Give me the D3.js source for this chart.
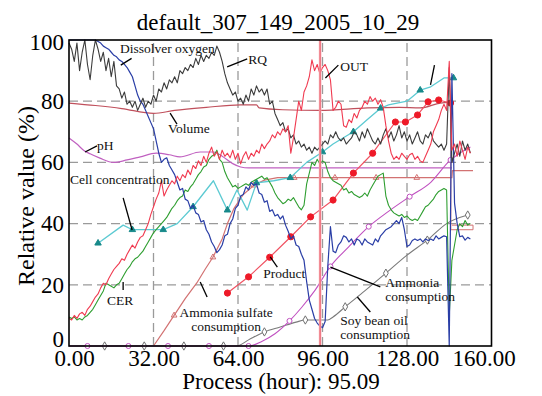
<!DOCTYPE html>
<html>
<head>
<meta charset="utf-8">
<script src="https://cdn.jsdelivr.net/npm/d3@7"></script>
<style>
  body { margin: 0; background: #fff; }
  text { font-family: "Liberation Serif", "Times New Roman", serif; }
</style>
</head>
<body>
<svg id="chart" width="542" height="396"></svg>
<script>
// ---- data (relative value %, process hour) ----
const title = 'default_307_149_2005_10_29';
const processHour = 95.09;
const xTicks = [0, 32, 64, 96, 128, 160];
const yTicks = [0, 20, 40, 60, 80, 100];

// noisy on-line signals sampled every hour, h = 0 .. 152
const hours = d3.range(0, 153);
const rqValues = [
  99, 97, 93, 99, 90, 96, 100, 92, 87, 95,
  100, 97, 93, 96, 90, 94, 88, 93, 85, 84,
  81, 83, 79, 80, 78, 80, 77, 79, 81, 78,
  80, 79, 82, 80, 84, 83, 86, 84, 87, 86,
  88, 86, 90, 89, 91, 90, 92, 91, 94, 92,
  95, 93, 95, 94, 96, 95, 98, 96, 93, 89,
  86, 84, 82, 83, 80, 81, 79, 82, 80, 84,
  82, 85, 83, 84, 82, 84, 79, 80, 76, 74,
  72, 73, 70, 71, 68, 69, 66, 67, 65, 66,
  64, 65, 63, 65, 64, 65, 66, 67, 66, 69,
  68, 70, 68, 67, 68, 66, 67, 68, 70, 69,
  67, 70, 68, 71, 69, 67, 66, 68, 66, 69,
  71, 68, 70, 67, 69, 72, 68, 70, 67, 69,
  66, 68, 70, 67, 66, 69, 68, 70, 67, 66,
  65, 66, 64, 66, 91, 60, 63, 66, 62, 67,
  64, 66, 63
];
const doValues = [
  100, 100, 100, 100, 100, 100, 100, 100, 100, 100,
  100, 99.5, 99, 98, 97.5, 97, 96, 95, 94.5, 93.5,
  93, 92, 91, 89.5, 88, 85, 82, 80, 79, 77,
  75, 73, 71, 67, 63, 60, 61, 61.5, 59, 57.5,
  56, 53.5, 51, 51.5, 48, 47.5, 45, 46, 43.5, 43,
  40.5, 41, 38, 36.5, 34, 32.5, 30.5, 31.5, 33, 36,
  36.5, 40, 41.5, 45, 46, 49, 49.5, 52, 51, 53.5,
  52.5, 53, 50, 49.5, 47, 47.5, 44, 44.5, 42.5, 43,
  41.5, 42.5, 39.5, 37.5, 35, 36, 33, 32.5, 30, 28,
  21, 15, 12, 9, 7.5, 6.5, 6, 8, 26, 39,
  31, 30.5, 33, 34, 36, 35.5, 34, 35, 33, 35,
  34.5, 33, 35, 34, 33.5, 33, 35, 34, 36, 37,
  38, 38.5, 39, 40, 41, 40, 42, 38, 32.5, 33,
  34.5, 35, 34.5, 35, 34, 35, 34.5, 35, 34.5, 36,
  35, 35.5, 36, 35.7, 0, 89, 46.7, 40, 35.7, 36,
  34.6, 35.5, 35
];
const outValues = [
  9, 8.5, 10, 9, 10.5, 11, 10, 12, 13, 14.5,
  16, 17, 19, 20.5, 20, 22, 23.5, 25, 26, 27,
  28.5, 28, 30, 31.5, 33, 32, 34, 35.5, 36, 38,
  40, 43, 45.5, 48, 50, 54, 49, 51, 52.5, 54,
  53, 55.5, 54, 56, 55, 57.5, 56, 59, 58, 60.5,
  59, 62, 60, 63, 65, 62, 63.5, 61, 64, 62,
  63, 61.5, 64, 61, 63, 59.5, 62, 63.5, 61, 63,
  62, 64, 63, 66, 64.5, 66, 67, 69, 68, 70,
  69, 71, 70, 72, 63, 68, 74, 80, 77, 83,
  85, 88, 93.5, 90, 92, 89, 91, 92, 90, 87,
  77, 78, 80, 79, 72, 71.5, 74, 73, 76, 74.5,
  77, 78, 80, 79, 81.5, 80, 81, 79, 80.5, 78,
  72, 67, 63, 61, 62, 61, 63, 62, 61, 62.5,
  63, 61, 62, 60.5, 60, 62, 64, 66, 70, 72,
  74, 77, 79, 77, 93, 64, 66, 62, 67, 64,
  61, 65, 63
];
const cerValues = [
  9.5, 9, 9.5, 8.5, 9, 8.5, 9.5, 10, 11, 12,
  13.5, 15, 16.5, 18, 20.5, 20, 19.5, 19, 20, 20.5,
  22, 23.5, 25, 26, 27.5, 28.5, 29, 30, 31, 32.5,
  34, 35.5, 37, 38, 39, 40, 41, 42, 43.5, 45,
  46, 47.5, 48.5, 49, 51, 50.5, 52, 53, 54.5, 56,
  57, 58.5, 59, 61, 62, 62.5, 64, 61, 60, 57,
  55, 53.5, 52, 52.5, 51.5, 52, 52.5, 53, 52.5, 53.5,
  54, 54.5, 55, 55.5, 54.5, 55, 53.5, 52, 50, 48.5,
  47.5, 46.5, 47, 48, 47.5, 48.5, 47, 45.5, 44.5, 46,
  53, 56.5, 60, 59, 61, 59.5, 60.5, 60, 57, 55,
  54, 53.5, 53, 52.5, 51, 51.5, 50, 50.5, 49.5, 49,
  48.5, 49, 50, 49, 51, 52.5, 54, 55.5, 56, 56.5,
  49, 46, 44.5, 43.5, 43, 42.5, 43, 42, 42.5, 41.5,
  41, 41.5, 41, 42.5, 44, 45.5, 46, 47, 48, 49.5,
  50.5, 51, 51.5, 51, 10, 28, 33, 38, 40, 39,
  41, 39.5, 40
];

// off-line / smooth signals as [hour, value]
const cellLine = [[11, 33.6], [20.5, 39.5], [24, 38], [35.7, 38], [41, 40], [47, 45.5], [54.7, 54], [60, 44.4],
  [63.6, 51], [67.5, 44.4], [71, 53.3], [77.5, 54], [83.8, 55], [90, 60], [96, 63.4], [100, 66], [107.7, 70],
  [113, 74], [118, 77.7], [121, 78.8], [128, 80], [133, 83.6], [137, 84.7], [142, 87.6], [145.6, 87.6]];
const cellMarks = [[11, 33.6], [24, 38], [35.7, 38], [47, 45.5], [60, 44.4], [71, 53.3], [83.8, 55], [96, 63.4],
  [107.7, 70], [118, 77.7], [133, 83.6], [145.6, 87.6]];
const phLine = [[0, 68], [3, 66], [5.5, 64], [8, 62.8], [11.7, 61.4], [16.8, 60], [22, 60.8], [27, 61.8], [33, 63],
  [38, 62.5], [42, 61.8], [49.7, 63.4], [54.7, 63.4], [58, 62], [62, 59.6], [65, 58.5], [68, 58.2], [145, 58.2]];
const volumeLine = [[0, 79.4], [10, 78.6], [20, 77.6], [32, 76], [40, 77], [52, 78], [65, 78.8], [71, 78.8],
  [72, 77.8], [81, 77.2], [95, 77], [113, 77.8], [125, 78], [133, 77.8], [140.6, 79.4], [144.5, 79.7]];
const volumeTail = [[144.6, 79.7], [144.6, 38], [153, 38], [153, 39.5], [145, 39.5]];
const sulfateLine = [[32, 0], [36, 5], [39.8, 10], [44, 15.5], [48.4, 20.6], [51.5, 25], [54.5, 29], [58, 35],
  [60, 40], [62.5, 45], [66, 49.5], [70, 52.5], [74, 54.2], [79, 55], [145, 55], [145.2, 57.3], [153, 57.3]];
const sulfateMarks = [[39.8, 10], [54.5, 29], [70, 52.5], [85.3, 55], [100.7, 55], [116.3, 55], [131.7, 55]];
const productLine = [[60, 17.3], [68, 22.6], [76, 29], [84, 35.7], [91.5, 42.2], [100, 47.7], [107.7, 56.5],
  [115, 63], [123.6, 73.2], [127.4, 73.2], [132, 75.5], [136, 79.8], [140, 80.4], [144.5, 79.4]];
const ammoniaLine = [[0, 0], [68, 0], [73, 1.5], [78, 4], [83.5, 8.2], [88, 12.5], [93, 18], [99, 26], [106, 32.5],
  [113.5, 39], [121, 44], [129, 48.8], [137, 53.5], [144.5, 60.8], [148, 63], [152, 65]];
const ammoniaMarks = [[7, 0], [22.5, 0], [37.5, 0], [53, 0], [68, 0], [83.5, 8.2], [99, 26], [113.5, 39],
  [129, 48.8], [144.5, 60.8]];
const soyLine = [[0, 0], [63.6, 0], [68, 2], [74, 4.6], [80, 6.2], [86, 7.8], [89.5, 8.5], [98, 8.5], [100, 9.5],
  [104.6, 12.8], [112, 18], [120, 23.8], [128, 29.7], [135.7, 34.6], [143, 40], [151, 42.8]];
const soyMarks = [[13.5, 0], [28.5, 0], [43.5, 0], [58.5, 0], [74, 4.6], [89.5, 8.5], [104.6, 12.8], [120, 23.8],
  [135.7, 34.6], [151, 42.8]];

// ---- layout ----
const svg = d3.select('#chart');
const W = 542, H = 396;
const margin = { top: 40, right: 50.5, bottom: 50, left: 69 };
const x = d3.scaleLinear().domain([0, 160]).range([margin.left, W - margin.right]);
const y = d3.scaleLinear().domain([0, 100]).range([H - margin.bottom, margin.top]);

// title
svg.append('text')
  .attr('x', 278).attr('y', 30)
  .attr('text-anchor', 'middle')
  .attr('font-size', 23)
  .text(title);

// grid lines
const grid = svg.append('g').attr('stroke', '#9a9a9a').attr('stroke-width', 1.3).attr('stroke-dasharray', '9,5');
grid.selectAll('.vg').data(xTicks.slice(1, -1)).join('line')
  .attr('x1', d => x(d)).attr('x2', d => x(d))
  .attr('y1', y(0)).attr('y2', y(100));
grid.selectAll('.hg').data(yTicks.slice(1, -1)).join('line')
  .attr('x1', x(0)).attr('x2', x(160))
  .attr('y1', d => y(d)).attr('y2', d => y(d));

// axes (labels only, the frame is drawn last)
const xAxis = svg.append('g')
  .attr('transform', `translate(0,${y(0)})`)
  .call(d3.axisBottom(x).tickValues(xTicks).tickFormat(d3.format('.2f')).tickSize(0).tickPadding(4));
xAxis.select('.domain').remove();
xAxis.selectAll('text')
  .attr('font-size', 23).attr('fill', '#000')
  .attr('font-family', '"Liberation Serif", serif')
  .attr('dx', (d, i) => i === 0 ? 5 : (i === xTicks.length - 1 ? -8 : 0));

const yAxis = svg.append('g')
  .attr('transform', `translate(${x(0)},0)`)
  .call(d3.axisLeft(y).tickValues(yTicks).tickSize(0).tickPadding(5));
yAxis.select('.domain').remove();
yAxis.selectAll('text')
  .attr('font-size', 23).attr('fill', '#000')
  .attr('font-family', '"Liberation Serif", serif')
  .attr('transform', d => d === 0 ? 'translate(0,-7)' : (d === 100 ? 'translate(0,2)' : null));

svg.append('text')
  .attr('x', 281).attr('y', 389)
  .attr('text-anchor', 'middle')
  .attr('font-size', 23)
  .text(`Process (hour): ${processHour.toFixed(2)}`);

svg.append('text')
  .attr('transform', `translate(34,${(y(0) + y(100)) / 2 + 3}) rotate(-90)`)
  .attr('text-anchor', 'middle')
  .attr('font-size', 24)
  .text('Relative value (%)');

// ---- series ----
const plot = svg.append('g');
const pairLine = d3.line().x(d => x(d[0])).y(d => y(d[1]));
const smoothLine = d3.line().x(d => x(d[0])).y(d => y(d[1])).curve(d3.curveMonotoneX);
const hourly = vals => hours.map((h, i) => [h, vals[i]]);

function drawPath(data, gen, color, width) {
  plot.append('path')
    .datum(data)
    .attr('fill', 'none')
    .attr('stroke', color)
    .attr('stroke-width', width)
    .attr('stroke-linejoin', 'round')
    .attr('d', gen);
}
function drawSymbols(data, type, size, fill, stroke) {
  plot.selectAll(null).data(data).join('path')
    .attr('transform', d => `translate(${x(d[0])},${y(d[1])})`)
    .attr('d', d3.symbol().type(type).size(size))
    .attr('fill', fill)
    .attr('stroke', stroke)
    .attr('stroke-width', 1);
}

drawPath(volumeLine, smoothLine, '#c0505c', 1.2);
drawPath(volumeTail, pairLine, '#d27272', 1);
drawPath(phLine, smoothLine, '#c060c0', 1.2);
drawPath(sulfateLine, pairLine, '#d27272', 1.2);
drawSymbols(sulfateMarks, d3.symbolTriangle, 14, 'none', '#d27272');
drawPath(soyLine, smoothLine, '#7a7a7a', 1.1);
drawSymbols(soyMarks, d3.symbolDiamond, 20, '#fff', '#707070');
drawPath(ammoniaLine, smoothLine, '#c050c0', 1.1);
drawSymbols(ammoniaMarks, d3.symbolCircle, 20, '#fff', '#c050c0');
drawPath(cellLine, pairLine, '#5ccad2', 1.3);
drawSymbols(cellMarks, d3.symbolTriangle, 18, '#17898a', '#17898a');
drawPath(productLine, pairLine, '#f05262', 1.2);
drawSymbols(productLine, d3.symbolCircle, 30, '#ee1a28', '#ee1a28');
drawPath(hourly(cerValues), pairLine, '#2e9e30', 1.1);
drawPath(hourly(doValues), pairLine, '#2a3ea6', 1.2);
drawPath(hourly(rqValues), pairLine, '#3c3c3c', 1.1);
drawPath(hourly(outValues), pairLine, '#f03a50', 1.1);

// current process time marker
plot.append('line')
  .attr('x1', x(processHour)).attr('x2', x(processHour))
  .attr('y1', y(100)).attr('y2', y(0))
  .attr('stroke', '#f7b4ba').attr('stroke-width', 2.6);
plot.append('line')
  .attr('x1', x(processHour)).attr('x2', x(processHour))
  .attr('y1', y(100)).attr('y2', y(0))
  .attr('stroke', '#e83a4a').attr('stroke-width', 0.8);

// ---- annotations (anchor in hour/value units) ----
const labels = [
  { text: ['Dissolver oxygen'], at: [19.3, 95.7], leader: [[19.6, 91.8], [23.7, 94.0]] },
  { text: ['RQ'], at: [67.9, 92.0], leader: [[59.9, 91.2], [67.5, 93.8]] },
  { text: ['OUT'], at: [102.7, 90.0], leader: [[97.1, 87.6], [102, 91.8]] },
  { text: [], at: [0, 0], leader: [[136.9, 85.3], [138.4, 91.8]] },
  { text: ['Volume'], at: [37.5, 69.6], leader: [[38.3, 76.1], [40.9, 72.5]] },
  { text: ['pH'], at: [10.6, 64.0], leader: [[6.1, 63.4], [10.6, 65.4]] },
  { text: ['Cell concentration'], at: [0.4, 52.9], leader: [[20.5, 48.4], [23.9, 37.9]] },
  { text: ['CER'], at: [14.4, 13.4], leader: [[20.5, 20.9], [20.5, 18.3]] },
  { text: ['Ammonia sulfate', 'consumption'], at: [59.5, 9.5], anchor: 'middle', leader: [[49.7, 20.9], [52.3, 16]] },
  { text: ['Product'], at: [73.6, 22.2], leader: [[76.2, 29.1], [78.9, 25.8]] },
  { text: ['Ammonia', 'consumption'], at: [119.8, 19.3], leader: [[99, 25.8], [117.9, 19.3]] },
  { text: ['Soy bean oil', 'consumption'], at: [102.7, 6.9], leader: [[109.2, 16], [114.1, 11.1]] }
];

const ann = svg.append('g');
labels.forEach(l => {
  ann.append('line')
    .attr('x1', x(l.leader[0][0])).attr('y1', y(l.leader[0][1]))
    .attr('x2', x(l.leader[1][0])).attr('y2', y(l.leader[1][1]))
    .attr('stroke', '#000').attr('stroke-width', 1.3);
  l.text.forEach((t, i) => {
    ann.append('text')
      .attr('x', x(l.at[0]))
      .attr('y', y(l.at[1]) + i * 14)
      .attr('text-anchor', l.anchor || 'start')
      .attr('font-size', 13.5)
      .attr('fill', '#111')
      .text(t);
  });
});

// frame
svg.append('rect')
  .attr('x', x(0)).attr('y', y(100))
  .attr('width', x(160) - x(0)).attr('height', y(0) - y(100))
  .attr('fill', 'none').attr('stroke', '#000').attr('stroke-width', 1.6);
</script>
</body>
</html>
